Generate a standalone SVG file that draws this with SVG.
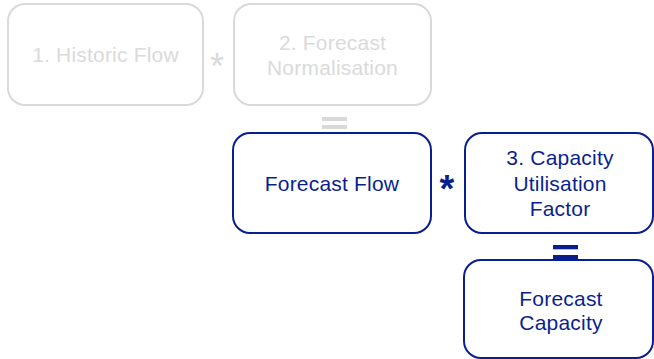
<svg xmlns="http://www.w3.org/2000/svg" width="654" height="359" viewBox="0 0 654 359">
<style>
.box{fill:#ffffff;stroke-width:2}
.g{stroke:#d9d9d9}
.b{stroke:#0a1f8f}
.t{font-family:"Liberation Sans",Arial,sans-serif;font-size:21px;text-anchor:middle;letter-spacing:0.2px}
.tg{fill:#dadada}
.tb{fill:#0a1f8f}
</style>
<rect width="654" height="359" fill="#ffffff"/>
<g id="historic-flow">
<rect class="box g" x="8" y="4" width="195" height="101" rx="17"/>
<text class="t tg" x="105.5" y="62">1. Historic Flow</text>
</g>
<g id="forecast-normalisation">
<rect class="box g" x="234" y="4" width="197" height="101" rx="17"/>
<text class="t tg" x="332.5" y="50">2. Forecast</text>
<text class="t tg" x="332.5" y="75">Normalisation</text>
</g>
<g id="forecast-flow">
<rect class="box b" x="233" y="133" width="198" height="100" rx="17"/>
<text class="t tb" x="332" y="191">Forecast Flow</text>
</g>
<g id="capacity-utilisation">
<rect class="box b" x="465" y="133" width="188" height="100" rx="17"/>
<text class="t tb" x="560" y="165">3. Capacity</text>
<text class="t tb" x="560" y="191">Utilisation</text>
<text class="t tb" x="560" y="216">Factor</text>
</g>
<g id="forecast-capacity">
<rect class="box b" x="464" y="260" width="189" height="98" rx="17"/>
<text class="t tb" x="561" y="306">Forecast</text>
<text class="t tb" x="561" y="330">Capacity</text>
</g>
<g id="connectors">
<text x="217" y="79" font-family="Liberation Sans,Arial,sans-serif" font-size="36" text-anchor="middle" fill="#d9d9d9">*</text>
<text x="447" y="202" font-family="Liberation Sans,Arial,sans-serif" font-size="38" font-weight="bold" text-anchor="middle" fill="#0a1f8f">*</text>
<rect x="322" y="117" width="25" height="4" fill="#d9d9d9"/>
<rect x="322" y="125" width="25" height="4" fill="#d9d9d9"/>
<rect x="553" y="245" width="25" height="4.3" fill="#0a1f8f"/>
<rect x="553" y="255" width="25" height="4.3" fill="#0a1f8f"/>
</g>
</svg>
